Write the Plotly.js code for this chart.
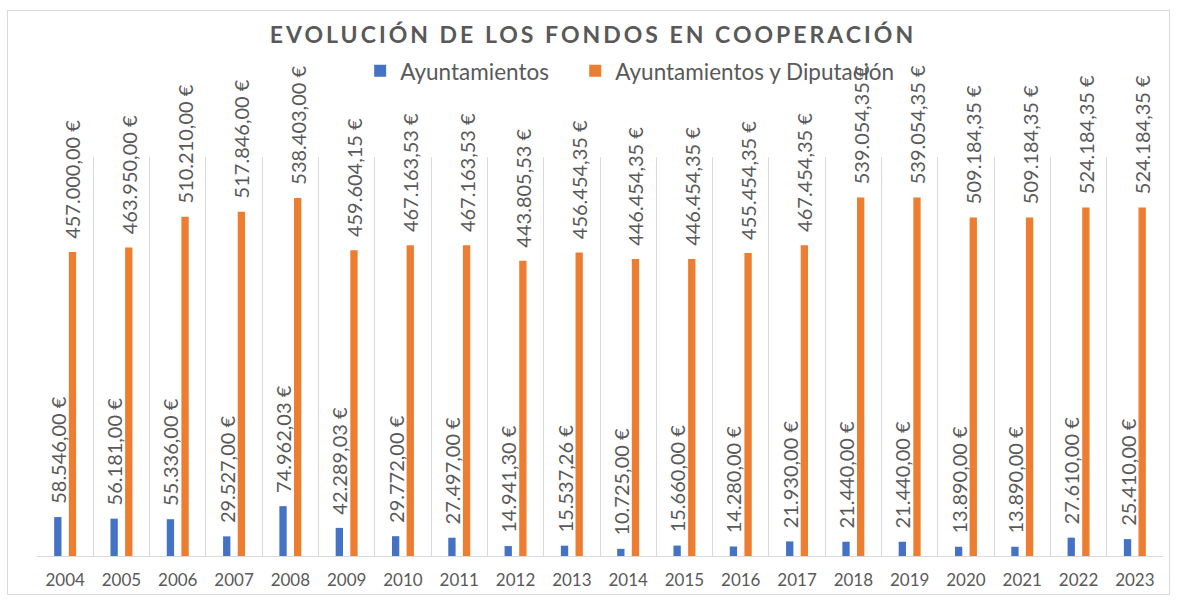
<!DOCTYPE html>
<html>
<head>
<meta charset="utf-8">
<script src="https://cdn.plot.ly/plotly-3.0.1.min.js"></script>
<style>
  html, body { margin: 0; padding: 0; background: #fff; }
  #wrap { position: relative; width: 1178px; height: 603px; }
  #chart { width: 1178px; height: 603px; }
  #frame { position: absolute; left: 7px; top: 10px; width: 1163px; height: 585px;
           border: 1px solid #D9D9D9; pointer-events: none; box-sizing: border-box; }
  .gtitle { letter-spacing: 3px; }
</style>
</head>
<body>
<div id="wrap">
  <div id="chart"></div>
  <div id="frame"></div>
</div>
<script>
const years = ["2004","2005","2006","2007","2008","2009","2010","2011","2012","2013",
               "2014","2015","2016","2017","2018","2019","2020","2021","2022","2023"];
const ayuntamientos = [58546.00, 56181.00, 55336.00, 29527.00, 74962.03, 42289.03, 29772.00, 27497.00,
                       14941.30, 15537.26, 10725.00, 15660.00, 14280.00, 21930.00, 21440.00, 21440.00,
                       13890.00, 13890.00, 27610.00, 25410.00];
const ayuntDiputacion = [457000.00, 463950.00, 510210.00, 517846.00, 538403.00, 459604.15, 467163.53, 467163.53,
                         443805.53, 456454.35, 446454.35, 446454.35, 455454.35, 467454.35, 539054.35, 539054.35,
                         509184.35, 509184.35, 524184.35, 524184.35];
const seriesNames = ["Ayuntamientos", "Ayuntamientos y Diputación"];
const titleText = "EVOLUCIÓN DE LOS FONDOS EN COOPERACIÓN";

const pad = "\u00A0\u00A0";
const fam = "Lato, 'Open Sans', sans-serif";
const labelFont = {family: fam, size: 20, color: "#595959"};

function barTrace(name, vals, color, legendId) {
  return {
    type: "bar", name: name, x: years, y: vals,
    marker: {color: color},
    legend: legendId,
    texttemplate: pad + "%{y:,.2f} €",
    textposition: "outside", textangle: -90,
    constraintext: "none", cliponaxis: false,
    outsidetextfont: labelFont, textfont: labelFont,
    hoverinfo: "skip"
  };
}

const data = [
  barTrace(seriesNames[0], ayuntamientos, "#4472C4", "legend"),
  barTrace(seriesNames[1], ayuntDiputacion, "#ED7D31", "legend2")
];

const legendBase = {
  orientation: "h", xanchor: "left", y: 1.215, yanchor: "middle",
  font: {family: fam, size: 22.5, color: "#595959"},
  bgcolor: "rgba(0,0,0,0)"
};

const layout = {
  width: 1178, height: 603,
  margin: {l: 37, r: 15, t: 157, b: 47, pad: 0},
  separators: ",.",
  paper_bgcolor: "#ffffff", plot_bgcolor: "#ffffff",
  barmode: "group", bargap: 0.48, bargroupgap: 0.5,
  font: {family: fam, color: "#595959"},
  title: {
    text: "<b>" + titleText + "</b>",
    font: {family: fam, size: 23, color: "#595959"},
    x: 593/1178, xref: "container", xanchor: "center",
    y: 1 - 35/603, yref: "container", yanchor: "middle"
  },
  showlegend: true,
  legend: Object.assign({}, legendBase, {x: 0.287}),
  legend2: Object.assign({}, legendBase, {x: 0.478}),
  xaxis: {
    type: "category", tickson: "boundaries", showgrid: true, gridcolor: "#D9D9D9", gridwidth: 1,
    ticks: "", showline: true, linecolor: "#D9D9D9", linewidth: 1,
    ticklabelstandoff: 9,
    tickfont: {family: fam, size: 17, color: "#595959"},
    fixedrange: true
  },
  yaxis: {
    range: [0, 600000], showgrid: false, zeroline: false, showticklabels: false,
    showline: false, ticks: "", fixedrange: true
  }
};

Plotly.newPlot("chart", data, layout, {displayModeBar: false, staticPlot: true});
</script>
</body>
</html>
